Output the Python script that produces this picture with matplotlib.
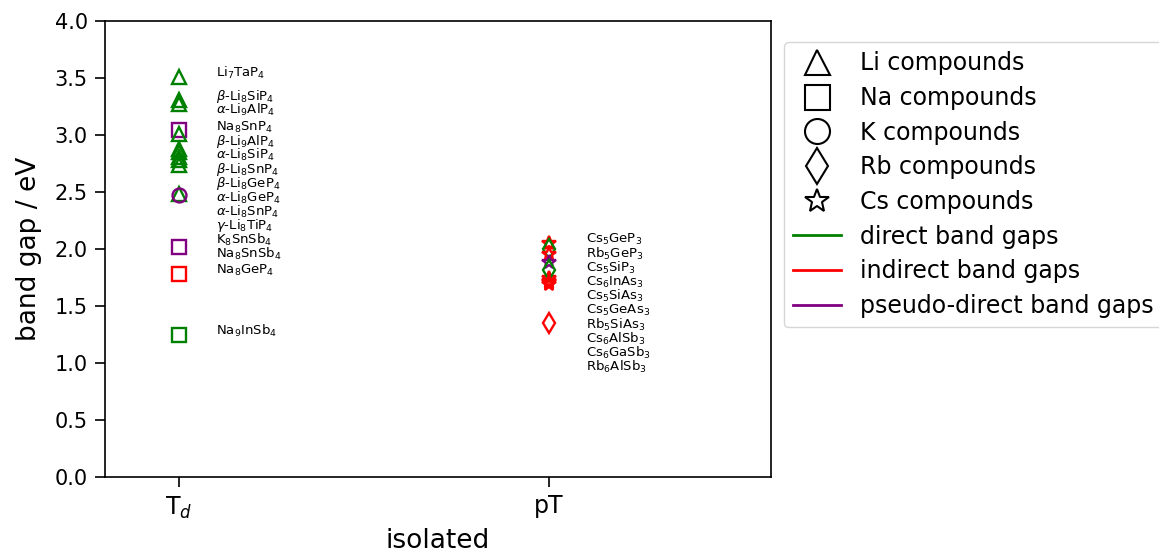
import matplotlib
matplotlib.use("Agg")
import matplotlib.pyplot as plt
from matplotlib.lines import Line2D

# ---- data ----
categories = ["T$_d$", "pT"]

td_names = ["Li$_7$TaP$_4$", r"$\beta$-Li$_8$SiP$_4$", r"$\alpha$-Li$_9$AlP$_4$", "Na$_8$SnP$_4$",
            r"$\beta$-Li$_9$AlP$_4$", r"$\alpha$-Li$_8$SiP$_4$", r"$\beta$-Li$_8$SnP$_4$",
            r"$\beta$-Li$_8$GeP$_4$", r"$\alpha$-Li$_8$GeP$_4$", r"$\alpha$-Li$_8$SnP$_4$",
            r"$\gamma$-Li$_8$TiP$_4$", "K$_8$SnSb$_4$", "Na$_8$SnSb$_4$", "Na$_8$GeP$_4$", "Na$_9$InSb$_4$"]
td_gaps = [3.51, 3.31, 3.27, 3.04, 3.01, 2.88, 2.85, 2.81, 2.78, 2.74, 2.48, 2.47, 2.02, 1.78, 1.25]
td_alkali = ["Li", "Li", "Li", "Na", "Li", "Li", "Li", "Li", "Li", "Li", "Li", "K", "Na", "Na", "Na"]
td_type = ["direct", "direct", "direct", "pseudo", "direct", "direct", "direct", "direct", "direct",
           "direct", "direct", "pseudo", "pseudo", "indirect", "direct"]

pt_names = ["Cs$_5$GeP$_3$", "Rb$_5$GeP$_3$", "Cs$_5$SiP$_3$", "Cs$_6$InAs$_3$", "Cs$_5$SiAs$_3$",
            "Cs$_5$GeAs$_3$", "Rb$_5$SiAs$_3$", "Cs$_6$AlSb$_3$", "Cs$_6$GaSb$_3$", "Rb$_6$AlSb$_3$"]
pt_gaps = [2.05, 2.00, 1.96, 1.89, 1.75, 1.72, 1.82, 1.69, 1.71, 1.35]
pt_alkali = ["Cs", "Rb", "Cs", "Cs", "Cs", "Cs", "Rb", "Cs", "Cs", "Rb"]
pt_type = ["indirect", "direct", "indirect", "pseudo", "indirect", "indirect", "direct",
           "indirect", "indirect", "indirect"]

marker_of = {"Li": "^", "Na": "s", "K": "o", "Rb": "d", "Cs": "*"}
color_of = {"direct": "green", "indirect": "red", "pseudo": "purple"}

fig = plt.figure(figsize=(11.59, 5.55), dpi=100)
ax = fig.add_axes([105 / 1159, 1 - 477 / 555, (771 - 105) / 1159, (477 - 21) / 555])

groups = [(td_names, td_gaps, td_alkali, td_type), (pt_names, pt_gaps, pt_alkali, pt_type)]
for xi, (names, gaps, alk, typ) in enumerate(groups):
    for g, a, t in zip(gaps, alk, typ):
        ax.plot([xi], [g], linestyle="none", marker=marker_of[a], markersize=10,
                markerfacecolor="none", markeredgecolor=color_of[t], markeredgewidth=1.7)
    # stacked labels to avoid overlap
    prev = None
    for n, g in zip(names, gaps):
        y = g + 0.03
        if prev is not None:
            y = min(y, prev - 0.124)
        prev = y
        ax.text(xi + 0.1, y, n, fontsize=9.5, va="center", ha="left")

ax.set_xlim(-0.2, 1.6)
ax.set_ylim(0, 4)
ax.set_xticks(range(len(categories)))
ax.set_xticklabels(categories, fontsize=17)
ax.set_yticks([0, 0.5, 1, 1.5, 2, 2.5, 3, 3.5, 4])
ax.tick_params(axis="y", labelsize=15)
ax.tick_params(length=7.5, width=1.2, pad=5)
for s in ax.spines.values():
    s.set_linewidth(1.2)
ax.set_xlabel("isolated", fontsize=19, labelpad=5)
ax.set_ylabel("band gap / eV", fontsize=19, labelpad=9)

handles = [Line2D([], [], linestyle="none", marker=marker_of[k], markerfacecolor="none",
                  markeredgecolor="black", markersize=9, markeredgewidth=1.5)
           for k in ["Li", "Na", "K", "Rb", "Cs"]]
labels = ["Li compounds", "Na compounds", "K compounds", "Rb compounds", "Cs compounds"]
for t, lab in [("direct", "direct band gaps"), ("indirect", "indirect band gaps"),
               ("pseudo", "pseudo-direct band gaps")]:
    handles.append(Line2D([], [], color=color_of[t], linewidth=2))
    labels.append(lab)
ax.legend(handles, labels, loc="upper left", bbox_to_anchor=(1.0195, 0.954), borderaxespad=0,
          fontsize=17, markerscale=2, labelspacing=0.45)

fig.savefig("out.png", dpi=100)
